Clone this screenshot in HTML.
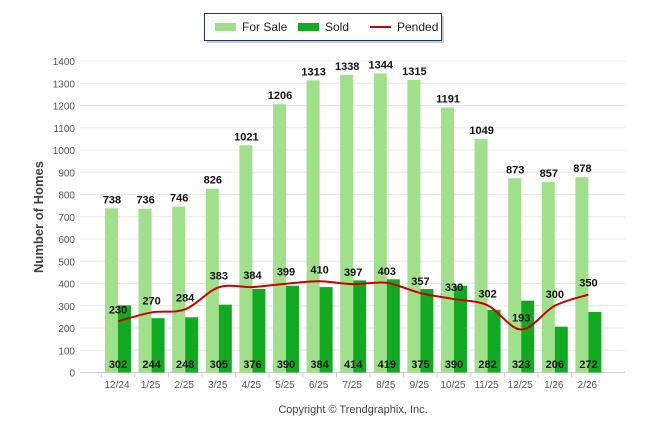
<!DOCTYPE html>
<html><head><meta charset="utf-8"><style>
body{margin:0;background:#fff;font-family:"Liberation Sans",Arial,sans-serif}
</style></head><body>
<svg id="c" width="646" height="434" xmlns="http://www.w3.org/2000/svg" style="font-family:'Liberation Sans',Arial,sans-serif">
<g>
<rect x="207" y="16" width="237" height="27" fill="#aaa" opacity="0.6"/>
<rect x="204.5" y="13.5" width="237" height="27" fill="#fff" stroke="#1f3560" stroke-width="1"/>
<rect x="215" y="23" width="21" height="8" fill="#a0e08a"/>
<text x="242" y="31" font-size="12" fill="#222">For Sale</text>
<rect x="298" y="23" width="21" height="8" fill="#11aa22"/>
<text x="325" y="31" font-size="12" fill="#222">Sold</text>
<line x1="370" y1="27" x2="391" y2="27" stroke="#cc0000" stroke-width="2"/>
<text x="397" y="31" font-size="12" fill="#222">Pended</text>
</g>
<text transform="translate(43,217) rotate(-90)" text-anchor="middle" font-size="13" font-weight="bold" fill="#444">Number of Homes</text>
<text x="353" y="413" text-anchor="middle" font-size="11" fill="#444">Copyright © Trendgraphix, Inc.</text>
<g id="grid"></g><g id="bars"></g><g id="line"></g><g id="labels"></g>
</svg>
<script>
const categories=["12/24","1/25","2/25","3/25","4/25","5/25","6/25","7/25","8/25","9/25","10/25","11/25","12/25","1/26","2/26"];
const forSale=[738,736,746,826,1021,1206,1313,1338,1344,1315,1191,1049,873,857,878];
const sold=[302,244,248,305,376,390,384,414,419,375,390,282,323,206,272];
const pended=[230,270,284,383,384,399,410,397,403,357,330,302,193,300,350];
const yTicks=[0,100,200,300,400,500,600,700,800,900,1000,1100,1200,1300,1400];
const NS="http://www.w3.org/2000/svg";
const y0=372.5,yMax=1400,yTop=61;
const Y=v=>y0-(v/yMax)*(y0-yTop);
const X=i=>118+i*33.6;
function mk(t,a,p){const e=document.createElementNS(NS,t);for(const k in a)e.setAttribute(k,a[k]);p.appendChild(e);return e;}
const g=document.getElementById('grid'),b=document.getElementById('bars'),l=document.getElementById('line'),lb=document.getElementById('labels');
yTicks.forEach(v=>{
 const ln=mk('line',{x1:80,x2:625,y1:Y(v),y2:Y(v),stroke:v?'#e8e8e8':'#ccc','stroke-width':1},g);
 
 
 const t=mk('text',{x:75,y:Y(v)+4,'text-anchor':'end','font-size':10,fill:'#555'},g);t.textContent=v;
 
 
});
categories.forEach((c,i)=>{
 const tk=mk('line',{x1:X(i)-16.8,x2:X(i)-16.8,y1:y0,y2:y0+5,stroke:'#ccc'},g);
 
 
 const t=mk('text',{x:X(i)-1,y:388,'text-anchor':'middle','font-size':10,fill:'#555'},g);t.textContent=c;
 
 
 const r1=mk('rect',{x:X(i)-13,y:Y(forSale[i]),width:13,height:y0-Y(forSale[i]),fill:'#a0e08a'},b);
 
 
 const r2=mk('rect',{x:X(i),y:Y(sold[i]),width:13,height:y0-Y(sold[i]),fill:'#11aa22'},b);
 
 
 const t1=mk('text',{x:X(i)-6,y:Y(forSale[i])-5,'text-anchor':'middle','font-size':11,'font-weight':'bold',fill:'#111'},lb);t1.textContent=forSale[i];
 
 
 const t2=mk('text',{x:X(i),y:368,'text-anchor':'middle','font-size':11,'font-weight':'bold',fill:'#111'},lb);t2.textContent=sold[i];
 
 
 const t3=mk('text',{x:X(i),y:Y(pended[i])-8,'text-anchor':'middle','font-size':11,'font-weight':'bold',fill:'#111'},lb);t3.textContent=pended[i];
 
 
});
const pts=pended.map((v,i)=>[X(i),Y(v)]);
let d='M'+pts[0][0]+','+pts[0][1];
for(let i=0;i<pts.length-1;i++){
 const p0=pts[Math.max(0,i-1)],p1=pts[i],p2=pts[i+1],p3=pts[Math.min(pts.length-1,i+2)];
 const c1=[p1[0]+(p2[0]-p0[0])/6,p1[1]+(p2[1]-p0[1])/6],c2=[p2[0]-(p3[0]-p1[0])/6,p2[1]-(p3[1]-p1[1])/6];
 d+=` C${c1[0]},${c1[1]} ${c2[0]},${c2[1]} ${p2[0]},${p2[1]}`;
}
const pl=mk('path',{d:d,fill:'none',stroke:'#cc0000','stroke-width':2},l);


</script>
</body></html>
